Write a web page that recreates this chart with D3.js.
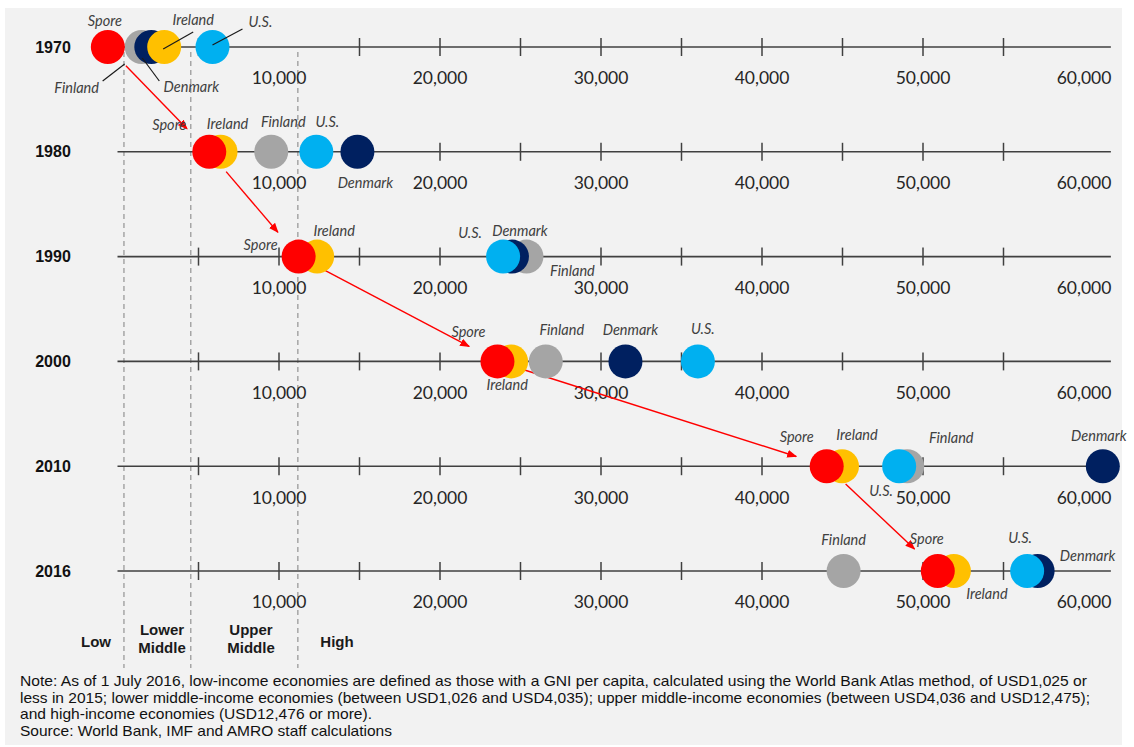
<!DOCTYPE html>
<html><head><meta charset="utf-8">
<script src="https://cdn.jsdelivr.net/npm/d3@7"></script>
<style>body{margin:0;background:#fff}</style>
</head><body><svg id="c" width="1134" height="747"></svg>
<script>
// ---------- data (GNI per capita, USD) ----------
const years     = ["1970", "1980", "1990", "2000", "2010", "2016"];
const countries = ["Finland", "Denmark", "Ireland", "Spore", "U.S."]; // drawing order (back to front)
const spore     = [-600, 5700, 11250, 23600, 44050, 50950];
const ireland   = [2900, 6400, 12400, 24450, 45000, 51950];
const finland   = [1500, 9550, 25400, 26600, 49050, 45100];
const denmark   = [2100, 14900, 24500, 31550, 61200, 57150];
const us        = [5900, 12350, 23950, 36050, 48550, 56500];
const tickMarks   = [5000, 10000, 15000, 20000, 25000, 30000, 35000, 40000, 45000, 50000, 55000];
const tickLabels  = [10000, 20000, 30000, 40000, 50000, 60000];
const bandEdges   = [400, 4550, 11200];   // apparent placement of the income-group boundaries
const bandNames   = [["Low"], ["Lower", "Middle"], ["Upper", "Middle"], ["High"]];
const noteLines = [
  "Note: As of 1 July 2016, low-income economies are defined as those with a GNI per capita, calculated using the World Bank Atlas method, of USD1,025 or",
  "less in 2015; lower middle-income economies (between USD1,026 and USD4,035); upper middle-income economies (between USD4,036 and USD12,475);",
  "and high-income economies (USD12,476 or more).",
  "Source: World Bank, IMF and AMRO staff calculations"
];

const seriesByCountry = {"Finland": finland, "Denmark": denmark, "Ireland": ireland, "Spore": spore, "U.S.": us};
const colors = {"Spore": "#FF0000", "Ireland": "#FFC000", "Finland": "#A5A5A5", "Denmark": "#002060", "U.S.": "#00B0F0"};

// label placement (offset of label centre/baseline from the circle centre)
const labelLayout = {
  "1970": {"Spore": [-3, -21], "Ireland": [29, -22], "U.S.": [48, -20], "Finland": [-65, 46], "Denmark": [40, 45]},
  "1980": {"Spore": [-40, -22], "Ireland": [7, -23], "Finland": [12, -25], "U.S.": [11, -25], "Denmark": [8, 36]},
  "1990": {"Spore": [-38, -7], "Ireland": [17, -21], "U.S.": [-33, -19], "Denmark": [8, -21], "Finland": [46, 19]},
  "2000": {"Spore": [-29, -24], "Ireland": [-4, 29], "Finland": [16, -26], "Denmark": [5, -26], "U.S.": [5, -27]},
  "2010": {"Spore": [-30, -24], "Ireland": [15, -26], "Finland": [44, -23], "Denmark": [-4, -25], "U.S.": [-18, 30]},
  "2016": {"Spore": [-11, -27], "Ireland": [33, 28], "Finland": [0, -26], "Denmark": [50, -10], "U.S.": [-7, -28]}
};
// leader lines for the crowded 1970 row (offsets from circle centre)
const leaders1970 = {"Ireland": [-1, 2, 29, -15], "U.S.": [0, -2, 30, -18], "Finland": [-39, 34, -17, 17], "Denmark": [-9, 11, 8, 34]};

// ---------- layout ----------
const svg = d3.select("#c");
const x = d3.scaleLinear().domain([0, 60000]).range([117.5, 1083.5]);
const y = d3.scalePoint().domain(years).range([47, 571]);
const R = 17;

svg.append("rect").attr("x", 5).attr("y", 8).attr("width", 1117).attr("height", 737).attr("fill", "#F2F2F2");

// dashed income-group boundaries
svg.append("g").selectAll("line").data(bandEdges).join("line")
  .attr("x1", d => x(d)).attr("x2", d => x(d))
  .attr("y1", 52).attr("y2", 668)
  .attr("stroke", "#A6A6A6").attr("stroke-width", 1.5).attr("stroke-dasharray", "5,4");

// band labels
const bandX = [96, 162, 251, 337];
const bandG = svg.append("g").attr("font-family", "'Liberation Sans', Arial, sans-serif")
  .attr("font-weight", "bold").attr("font-size", 15).attr("fill", "#1a1a1a").attr("text-anchor", "middle");
bandNames.forEach((lines, i) => {
  const t = bandG.append("text").attr("x", bandX[i]).attr("y", lines.length === 1 ? 647 : 635);
  lines.forEach((l, j) => t.append("tspan").attr("x", bandX[i]).attr("dy", j === 0 ? 0 : 18).text(l));
});

// rows: axis line, ticks, labels
years.forEach(yr => {
  const yy = y(yr);
  const g = svg.append("g");
  g.append("line").attr("x1", x(0)).attr("x2", x(61700)).attr("y1", yy).attr("y2", yy)
    .attr("stroke", "#404040").attr("stroke-width", 1.6);
  const tg = g.append("g").attr("transform", `translate(0,${yy - 9})`)
    .call(d3.axisBottom(x).tickValues(yr === "1970" ? tickMarks.filter(v => v !== 10000) : tickMarks)
      .tickSize(18).tickFormat(""));
  tg.select(".domain").remove();
  tg.selectAll(".tick line").attr("stroke", "#404040").attr("stroke-width", 1.5);
  const lg = g.append("g").attr("transform", `translate(0,${yy + 22})`)
    .call(d3.axisBottom(x).tickValues(tickLabels).tickSize(0).tickFormat(d3.format(",")));
  lg.select(".domain").remove();
  lg.selectAll(".tick text").attr("font-family", "Lato, 'Open Sans', sans-serif")
    .attr("font-size", 17.5).attr("fill", "#262626").attr("dy", "0.71em");
  // year label
  svg.append("text").attr("x", 53).attr("y", yy).attr("dy", "0.35em").attr("text-anchor", "middle")
    .attr("font-family", "'Liberation Sans', Arial, sans-serif").attr("font-weight", "bold")
    .attr("font-size", 16).attr("fill", "#111").text(yr);
});

// red arrows linking Singapore across years
svg.append("defs").append("marker").attr("id", "ah").attr("markerUnits", "userSpaceOnUse")
  .attr("markerWidth", 10).attr("markerHeight", 8).attr("refX", 9).attr("refY", 4).attr("orient", "auto")
  .append("path").attr("d", "M0,0 L10,4 L0,8 z").attr("fill", "#FF0000");
const sp = years.map((yr, i) => [x(spore[i]), y(yr)]);
const arrows = d3.range(sp.length - 1).map(i => {
  const [x0, y0] = sp[i], [x1, y1] = sp[i + 1];
  const L = Math.hypot(x1 - x0, y1 - y0), ux = (x1 - x0) / L, uy = (y1 - y0) / L;
  return [x0 + ux * 26, y0 + uy * 26, x1 - ux * 32, y1 - uy * 32];
});
svg.append("g").selectAll("line").data(arrows).join("line")
  .attr("x1", d => d[0]).attr("y1", d => d[1]).attr("x2", d => d[2]).attr("y2", d => d[3])
  .attr("stroke", "#FF0000").attr("stroke-width", 1.4).attr("marker-end", "url(#ah)");

// circles
const points = [];
years.forEach((yr, i) => countries.forEach(c => points.push({year: yr, country: c, value: seriesByCountry[c][i]})));
svg.append("g").selectAll("circle").data(points).join("circle")
  .attr("cx", d => x(d.value)).attr("cy", d => y(d.year)).attr("r", R)
  .attr("fill", d => colors[d.country]);

// leader lines 1970
svg.append("g").selectAll("line").data(Object.keys(leaders1970)).join("line")
  .attr("x1", c => x(seriesByCountry[c][0]) + leaders1970[c][0]).attr("y1", c => y("1970") + leaders1970[c][1])
  .attr("x2", c => x(seriesByCountry[c][0]) + leaders1970[c][2]).attr("y2", c => y("1970") + leaders1970[c][3])
  .attr("stroke", "#1a1a1a").attr("stroke-width", 1.2);

// country labels
svg.append("g").selectAll("text").data(points).join("text")
  .attr("x", d => x(d.value) + labelLayout[d.year][d.country][0])
  .attr("y", d => y(d.year) + labelLayout[d.year][d.country][1])
  .attr("text-anchor", "middle").attr("font-family", "Lato, 'Open Sans', sans-serif")
  .attr("font-style", "italic").attr("font-size", 14.5).attr("fill", "#404040")
  .text(d => d.country);

// note
const noteW = [1067, 1070, 352, 372];
svg.append("g").selectAll("text").data(noteLines).join("text")
  .attr("x", 20).attr("y", (d, i) => 686 + i * 16.6)
  .attr("font-family", "'Liberation Sans', Arial, sans-serif").attr("font-size", 14.5).attr("fill", "#111")
  .attr("textLength", (d, i) => noteW[i]).attr("lengthAdjust", "spacingAndGlyphs")
  .text(d => d);
</script></body></html>
